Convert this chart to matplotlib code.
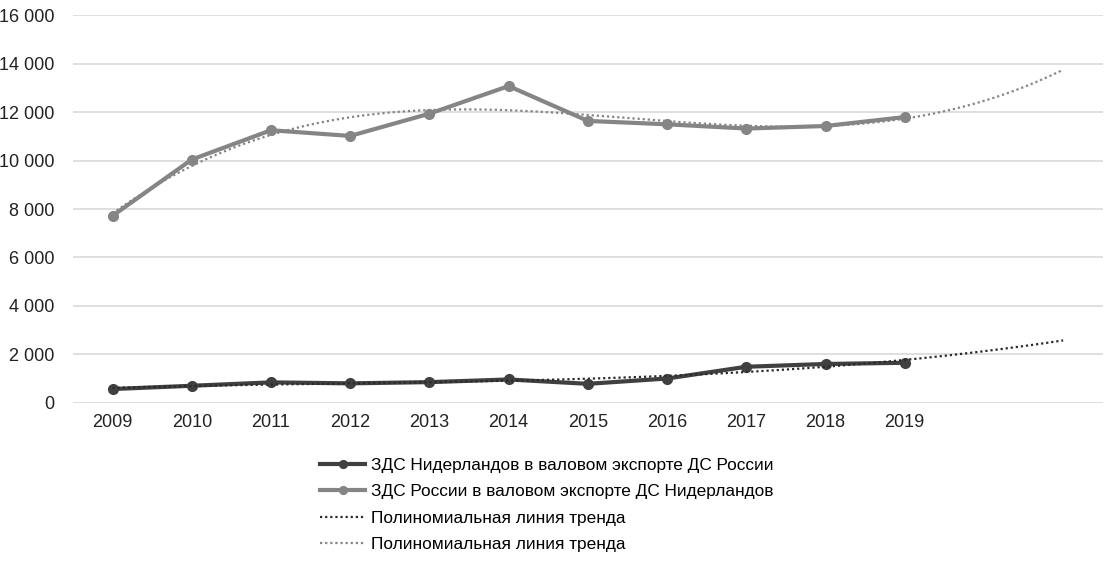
import numpy as np
import matplotlib.pyplot as plt
from matplotlib.ticker import FuncFormatter

plt.rcParams['font.family'] = ['Liberation Sans', 'DejaVu Sans']

years = ['2009', '2010', '2011', '2012', '2013', '2014', '2015', '2016', '2017', '2018', '2019', '', '']
nl_in_ru = [565, 700, 840, 800, 850, 960, 780, 1000, 1485, 1600, 1650]
ru_in_nl = [7720, 10045, 11255, 11020, 11940, 13080, 11640, 11500, 11325, 11430, 11800]

label_nl = 'ЗДС Нидерландов в валовом экспорте ДС России'
label_ru = 'ЗДС России в валовом экспорте ДС Нидерландов'
label_trend = 'Полиномиальная линия тренда'

dark = '#404040'
grey = '#858585'

x = np.arange(len(nl_in_ru))
x_trend = np.linspace(0, len(years) - 1, 200)
trend_nl = np.polyval(np.polyfit(x, nl_in_ru, 3), x_trend)
trend_ru = np.polyval(np.polyfit(x, ru_in_nl, 3), x_trend)

fig = plt.figure(figsize=(11.05, 5.63), dpi=100)
ax = fig.add_axes([0.066, 0.2847, 0.932, 0.688])

ax.plot(x, nl_in_ru, color=dark, lw=3, marker='o', ms=7, label=label_nl, zorder=3)
ax.plot(x, ru_in_nl, color=grey, lw=3, marker='o', ms=7, label=label_ru, zorder=3)
ax.plot(x_trend, trend_nl, color='#2a2a2a', lw=1.6, ls=(0, (1, 1.3)), label=label_trend, zorder=4)
ax.plot(x_trend, trend_ru, color=grey, lw=1.6, ls=(0, (1, 1.3)), label=label_trend, zorder=4)

ax.set_xlim(-0.5, len(years) - 0.5)
ax.set_ylim(0, 16000)
ax.set_xticks(np.arange(len(years)))
ax.set_xticklabels(years)
ax.set_yticks(np.arange(0, 16001, 2000))
ax.yaxis.set_major_formatter(FuncFormatter(lambda v, p: f'{int(v):,}'.replace(',', ' ')))
ax.tick_params(length=0, labelsize=13, labelcolor='#222222')
ax.tick_params(axis='y', pad=13)
ax.tick_params(axis='x', pad=8)
ax.grid(axis='y', color='#d9d9d9', lw=1.2)
ax.set_axisbelow(True)
for s in ax.spines.values():
    s.set_visible(False)

ax.legend(loc='upper left', bbox_to_anchor=(0.232, -0.12), frameon=False, fontsize=12.4,
          handlelength=2.6, handletextpad=0.35, labelspacing=0.66, borderpad=0, markerscale=0.8)

fig.savefig('out.png', dpi=100)
